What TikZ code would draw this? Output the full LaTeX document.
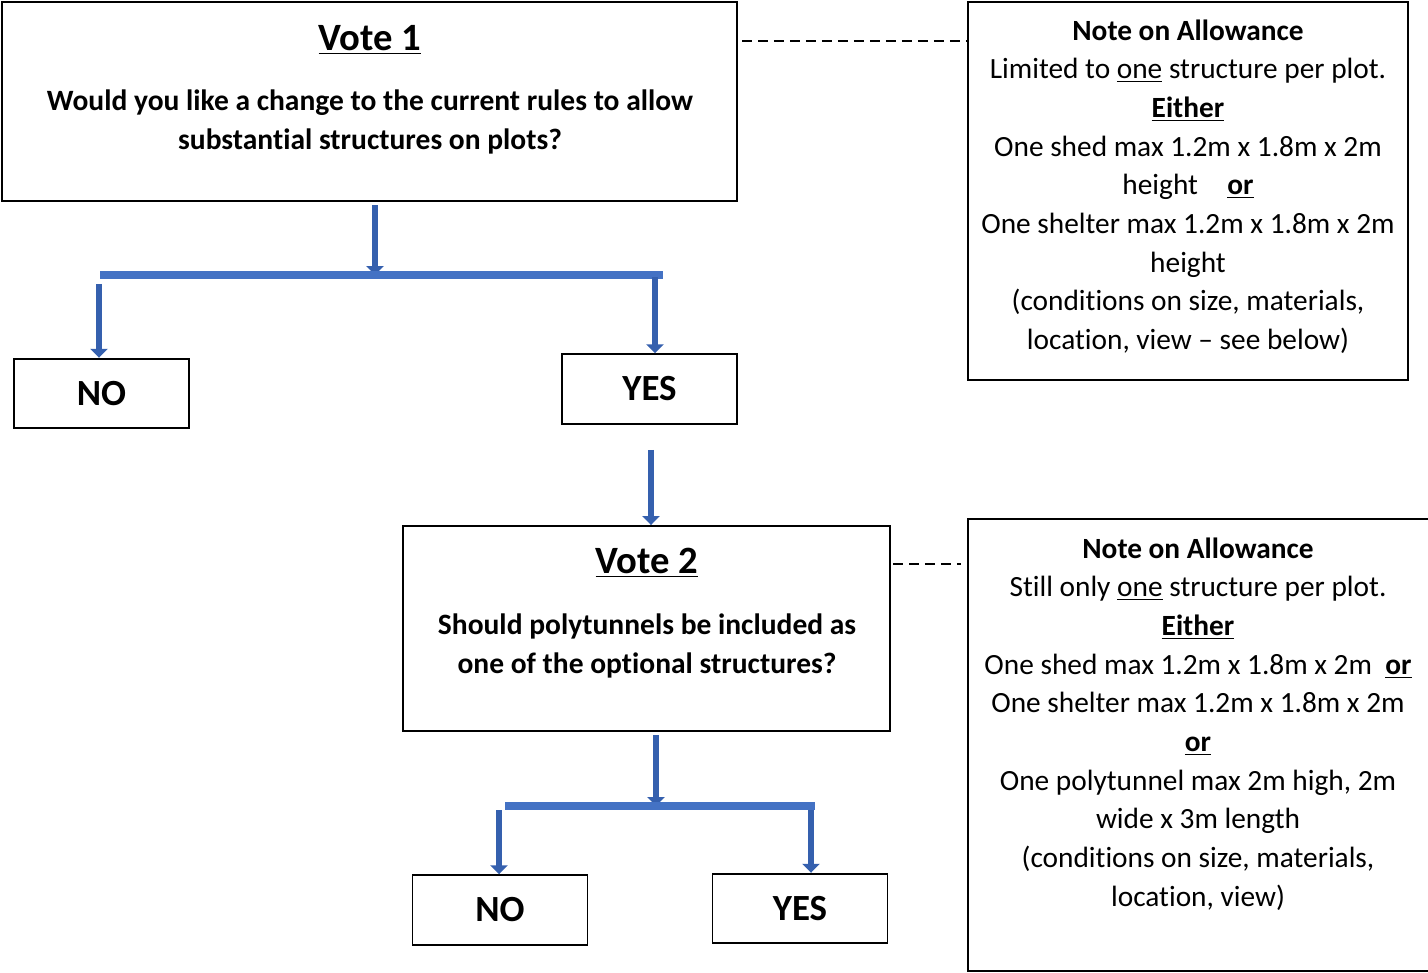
\documentclass[tikz,border=0pt]{standalone}
\usepackage{fontspec}
\setmainfont{Carlito}[Ligatures=NoCommon]
\usetikzlibrary{arrows.meta,calc}
\definecolor{FlowBlue}{HTML}{4472C4}
\definecolor{FlowEdge}{HTML}{3560AE}
\tikzset{
  every node/.style={text=black},
  box/.style={draw=black, line width=1.1pt, inner sep=0pt},
  answer/.style={box, minimum width=3.5cm, minimum height=1.39cm, font=\fontsize{21}{25}\selectfont\bfseries},
  heading/.style={font=\fontsize{22}{26}\selectfont\bfseries},
  question/.style={align=center, font=\fontsize{16.8}{22}\selectfont\bfseries},
  notetext/.style={align=center, font=\fontsize{16.7}{22}\selectfont},
  split/.style={draw=FlowBlue, line width=4pt},
  flow/.style={-{Triangle[length=1.8mm,width=3.4mm]}, draw=FlowEdge, line width=3.4pt},
  leader/.style={draw=black, line width=1.4pt, dash pattern=on 0.2cm off 0.12cm},
}
\begin{document}
\begin{tikzpicture}[x=0.02cm,y=-0.02cm]
  \useasboundingbox (0,0) rectangle (1428,973);
  % Vote 1
  \node[box, minimum width=14.7cm, minimum height=3.98cm] (vote1) at (369.5,101.5) {};
  \node[heading] (vote1title) at (370,40) {\underline{Vote 1}};
  \node[question] (vote1text) at (370,122) {Would you like a change to the current rules to allow\\substantial structures on plots?};
  % first note
  \node[box, minimum width=8.8cm, minimum height=7.56cm] (note1) at (1188,191) {};
  \node[notetext] (note1text) at (1188,186.5) {\textbf{Note on Allowance}\\
    Limited to \underline{one} structure per plot.\\
    \textbf{\underline{Either}}\\
    One shed max 1.2m x 1.8m x 2m\\
    height\quad\textbf{\underline{or}}\\
    One shelter max 1.2m x 1.8m x 2m\\
    height\\
    (conditions on size, materials,\\
    location, view -- see below)};
  \coordinate (tie1) at (742,41);
  \draw[leader] (tie1) -- (tie1 -| note1.west);
  % answers to vote 1
  \node[answer] (no1) at (101.5,393.5) {NO};
  \node[answer] (yes1) at (649.5,389) {YES};
  \coordinate (split1) at (375,275);
  \coordinate (fork1w) at (100,275);
  \coordinate (fork1e) at (663,275);
  \coordinate (drop1w) at (99,284);
  \coordinate (drop1e) at (655,277);
  \draw[flow, shorten <=2pt] (vote1.south -| split1) -- (split1);
  \draw[split] (fork1w) -- (fork1e);
  \draw[flow] (drop1w) -- (no1.north -| drop1w);
  \draw[flow] (drop1e) -- (yes1.north -| drop1e);
  % Vote 2
  \node[box, minimum width=9.74cm, minimum height=4.1cm] (vote2) at (646.5,628.5) {};
  \node[heading] (vote2title) at (647,563) {\underline{Vote 2}};
  \node[question] (vote2text) at (647,646) {Should polytunnels be included as\\one of the optional structures?};
  \coordinate (link) at (651,450);
  \draw[flow] (link) -- (link |- vote2.north);
  % second note
  \node[box, minimum width=9.28cm, minimum height=9.04cm] (note2) at (1200,745) {};
  \node[notetext] (note2text) at (1198,724) {\textbf{Note on Allowance}\\
    Still only \underline{one} structure per plot.\\
    \textbf{\underline{Either}}\\
    One shed max 1.2m x 1.8m x 2m\ \ \textbf{\underline{or}}\\
    One shelter max 1.2m x 1.8m x 2m\\
    \textbf{\underline{or}}\\
    One polytunnel max 2m high, 2m\\
    wide x 3m length\\
    (conditions on size, materials,\\
    location, view)};
  \coordinate (tie2) at (893,564);
  \draw[leader, shorten >=0.12cm] (tie2) -- (tie2 -| note2.west);
  % answers to vote 2
  \node[answer] (no2) at (500,910) {NO};
  \node[answer] (yes2) at (800,908.5) {YES};
  \coordinate (split2) at (656,806);
  \coordinate (fork2w) at (505,806);
  \coordinate (fork2e) at (815,806);
  \coordinate (drop2w) at (499,810);
  \coordinate (drop2e) at (811,810);
  \draw[flow, shorten <=2pt] (vote2.south -| split2) -- (split2);
  \draw[split] (fork2w) -- (fork2e);
  \draw[flow] (drop2w) -- (no2.north -| drop2w);
  \draw[flow] (drop2e) -- (yes2.north -| drop2e);
\end{tikzpicture}
\end{document}
